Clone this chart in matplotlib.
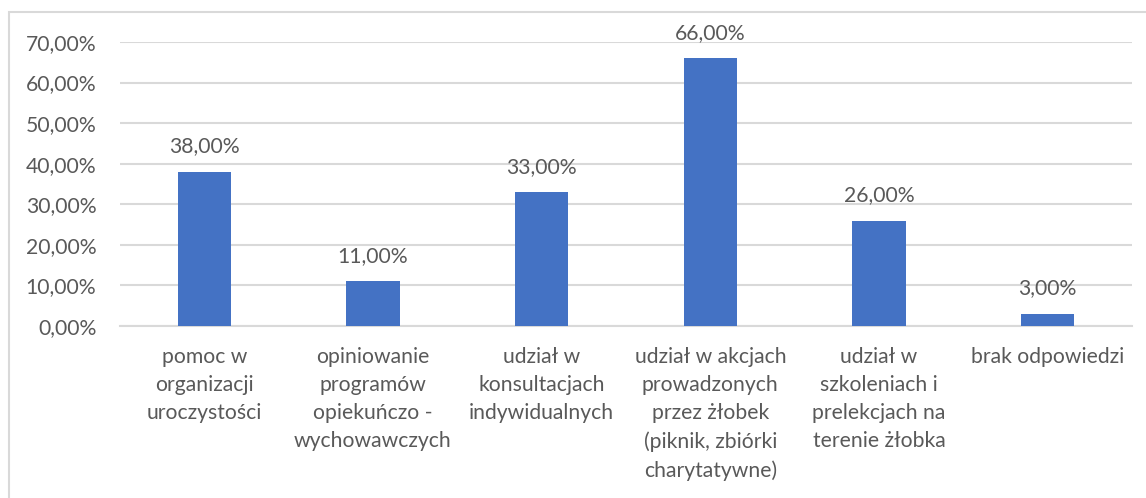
import matplotlib
matplotlib.use("Agg")
import matplotlib.pyplot as plt
from matplotlib.patches import Rectangle
from matplotlib.ticker import FuncFormatter, MultipleLocator

# Data
categories = [
    "pomoc w\norganizacji\nuroczystości",
    "opiniowanie\nprogramów\nopiekuńczo -\nwychowawczych",
    "udział w\nkonsultacjach\nindywidualnych",
    "udział w akcjach\nprowadzonych\nprzez żłobek\n(piknik, zbiórki\ncharytatywne)",
    "udział w\nszkoleniach i\nprelekcjach na\nterenie żłobka",
    "brak odpowiedzi",
]
values = [38, 11, 33, 66, 26, 3]

BAR = "#4472C4"
TXT = "#595959"
GRID = "#D9D9D9"
FS = 15.2

plt.rcParams['font.family'] = ['Lato', 'DejaVu Sans']

W, H = 1146, 498
fig = plt.figure(figsize=(W / 100, H / 100), dpi=100)
ax = fig.add_axes([120 / W, 1 - 326 / H, (1132 - 120) / W, (326 - 42) / H])

x = range(len(values))
bars = ax.bar(x, values, width=0.315, color=BAR, zorder=3)

ax.set_ylim(0, 70)
ax.set_xlim(-0.5, len(values) - 0.5)
ax.yaxis.set_major_locator(MultipleLocator(10))
ax.yaxis.set_major_formatter(FuncFormatter(lambda v, p: f"{v:.2f}%".replace(".", ",")))
ax.grid(axis="y", color=GRID, linewidth=1.5, zorder=0)

for s in ["top", "right", "left"]:
    ax.spines[s].set_visible(False)
ax.spines["bottom"].set_color(GRID)
ax.spines["bottom"].set_linewidth(1.5)

ax.tick_params(axis="y", length=0, pad=17, labelsize=FS, labelcolor=TXT)
ax.tick_params(axis="x", length=0, pad=15, labelsize=FS, labelcolor=TXT)
ax.set_xticks(list(x))
ax.set_xticklabels(categories, linespacing=1.51, va="top", ha="center")

for b, v in zip(bars, values):
    ax.annotate(f"{v:.2f}%".replace(".", ","), (b.get_x() + b.get_width() / 2, v),
                xytext=(0, 11), textcoords="offset points", ha="center", va="bottom",
                fontsize=FS, color=TXT)

# chart frame (cropped on the right and bottom)
fig.patches.append(Rectangle((8.5 / W, -0.1), 1.2, 1 - 12.5 / H + 0.1, transform=fig.transFigure,
                             fill=False, edgecolor=GRID, linewidth=1.5))

fig.savefig("out.png", dpi=100)
